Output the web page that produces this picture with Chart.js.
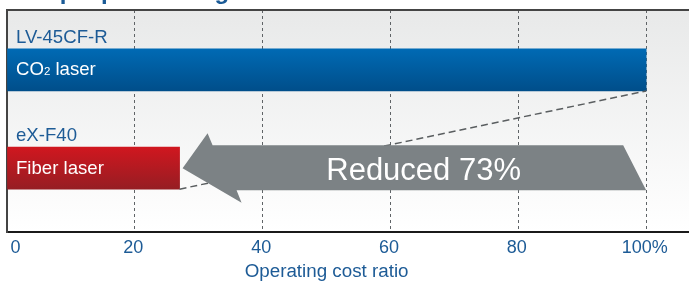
<!DOCTYPE html>
<html lang="en">
<head>
    <meta charset="UTF-8">
    <title>Operating cost ratio</title>
    <script src="https://cdn.jsdelivr.net/npm/chart.js"></script>
    <style>
        html, body { margin: 0; padding: 0; background: #fff; }
        canvas { display: block; }
    </style>
</head>
<body>
    <canvas id="grafica" width="689" height="282"></canvas>
    <script>
        // Datos
        const models = ['LV-45CF-R', 'eX-F40'];
        const laserTypes = ['CO2 laser', 'Fiber laser'];
        const costRatio = [100, 27];
        const xTickValues = [0, 20, 40, 60, 80, 100];
        const axisTitle = 'Operating cost ratio';
        const reductionText = 'Reduced 73%';
        const headerText = 'Sample processing';

        const FONT = '"Liberation Sans", Arial, Helvetica, sans-serif';
        const BLUE_TEXT = '#1d5b96';
        const barGradients = [['#006ab4', '#004e8a'], ['#d0171f', '#961d23']];

        // fondo degradado, cabecera cortada y bordes
        const decoPlugin = {
            id: 'deco',
            beforeDraw(chart) {
                const { ctx, chartArea: a } = chart;
                ctx.save();
                const g = ctx.createLinearGradient(0, a.top, 0, a.bottom);
                g.addColorStop(0, '#e8e9e9');
                g.addColorStop(1, '#ffffff');
                ctx.fillStyle = g;
                ctx.fillRect(a.left, a.top, a.right - a.left, a.bottom - a.top);

                ctx.font = 'bold 24px ' + FONT;
                ctx.fillStyle = '#1a5a96';
                ctx.textBaseline = 'alphabetic';
                ctx.fillText(headerText, a.left + 2, -1.5);
                ctx.restore();
            },
            afterDatasetsDraw(chart) {
                const { ctx, chartArea: a } = chart;
                const bars = chart.getDatasetMeta(0).data;
                const blue = bars[0], red = bars[1];
                ctx.save();

                // linea discontinua entre los extremos de las barras
                ctx.strokeStyle = '#5a5e60';
                ctx.lineWidth = 1.5;
                ctx.setLineDash([7, 4]);
                ctx.beginPath();
                ctx.moveTo(red.x, red.y + red.height / 2);
                ctx.lineTo(blue.x, blue.y + blue.height / 2);
                ctx.stroke();
                ctx.setLineDash([]);

                // flecha gris
                const tipX = red.x + 3, cy = red.y, endX = blue.x;
                ctx.fillStyle = '#7c8285';
                ctx.beginPath();
                ctx.moveTo(tipX, cy);
                ctx.lineTo(tipX + 25, cy - 35);
                ctx.lineTo(tipX + 30, cy - 23);
                ctx.lineTo(endX - 23, cy - 23);
                ctx.lineTo(endX, cy + 22);
                ctx.lineTo(tipX + 54, cy + 22);
                ctx.lineTo(tipX + 59, cy + 34.5);
                ctx.closePath();
                ctx.fill();

                ctx.font = '31px ' + FONT;
                ctx.fillStyle = '#ffffff';
                ctx.textAlign = 'center';
                ctx.textBaseline = 'alphabetic';
                ctx.fillText(reductionText, (tipX + 30 + endX - 11.5) / 2, cy + 12);

                // etiquetas de las barras
                ctx.textAlign = 'left';
                const lx = a.left + 9;
                const f = '18.6px ' + FONT;
                bars.forEach((bar, i) => {
                    const top = bar.y - bar.height / 2;
                    ctx.font = f;
                    ctx.fillStyle = BLUE_TEXT;
                    ctx.fillText(models[i], lx, Math.round(top - 6));
                    ctx.fillStyle = '#ffffff';
                    const base = Math.round(top + 26.5);
                    const name = laserTypes[i];
                    if (name.startsWith('CO2')) {
                        ctx.fillText('CO', lx, base);
                        let x = lx + ctx.measureText('CO').width;
                        ctx.font = '11.5px ' + FONT;
                        ctx.fillText('2', x, base);
                        x += ctx.measureText('2').width;
                        ctx.font = f;
                        ctx.fillText(name.slice(3), x, base);
                    } else {
                        ctx.fillText(name, lx, base);
                    }
                });

                // titulo del eje, centrado en 0-100
                const xs = chart.scales.x;
                ctx.font = '18.8px ' + FONT;
                ctx.fillStyle = BLUE_TEXT;
                ctx.textAlign = 'center';
                ctx.fillText(axisTitle, (xs.getPixelForValue(0) + xs.getPixelForValue(100)) / 2, 277);
                ctx.restore();
            },
            afterDraw(chart) {
                const { ctx, chartArea: a } = chart;
                ctx.save();
                ctx.strokeStyle = '#444';
                ctx.lineWidth = 2;
                ctx.beginPath();
                ctx.moveTo(a.left - 1, a.top);
                ctx.lineTo(a.right, a.top);
                ctx.stroke();
                ctx.restore();
            }
        };

        const ctx = document.getElementById('grafica').getContext('2d');
        new Chart(ctx, {
            type: 'bar',
            plugins: [decoPlugin],
            data: {
                datasets: [{
                    label: 'Operating cost ratio',
                    data: costRatio.map((v, i) => ({ x: v, y: i })),
                    barThickness: 42,
                    borderWidth: 0,
                    backgroundColor: (c) => {
                        const chart = c.chart;
                        if (!chart.chartArea || c.type !== 'data') return barGradients[0][0];
                        const yc = chart.scales.y.getPixelForValue(c.dataIndex);
                        const g = chart.ctx.createLinearGradient(0, yc - 21, 0, yc + 21);
                        g.addColorStop(0, barGradients[c.dataIndex][0]);
                        g.addColorStop(1, barGradients[c.dataIndex][1]);
                        return g;
                    }
                }]
            },
            options: {
                indexAxis: 'y',
                responsive: false,
                animation: false,
                layout: { padding: { top: 10, left: 7, right: 0, bottom: 0 } },
                plugins: {
                    legend: { display: false },
                    tooltip: { enabled: false }
                },
                scales: {
                    x: {
                        type: 'linear',
                        min: 0,
                        max: 106.7,
                        afterBuildTicks: (s) => { s.ticks = xTickValues.map(v => ({ value: v })); },
                        afterFit: (s) => { s.height = 50; s.paddingLeft = 0; s.paddingRight = 0; },
                        grid: {
                            drawTicks: false,
                            color: (c) => (c.tick && c.tick.value === 0) ? 'rgba(0,0,0,0)' : '#5f6366',
                            lineWidth: 1
                        },
                        border: { display: true, color: '#1a1a1a', width: 2, dash: [3, 3] },
                        ticks: {
                            padding: 5,
                            color: BLUE_TEXT,
                            font: { family: FONT, size: 18 },
                            maxRotation: 0,
                            autoSkip: false,
                            labelOffset: -1.5,
                            callback: (v) => v === 100 ? '100%' : (v === 0 ? '    0' : String(v))
                        }
                    },
                    y: {
                        type: 'linear',
                        reverse: true,
                        offset: false,
                        min: -0.61,
                        max: 1.65,
                        afterFit: (s) => { s.width = 0; },
                        grid: { display: false, drawTicks: false, offset: false },
                        border: { display: true, color: '#444', width: 2 },
                        ticks: { display: false }
                    }
                }
            }
        });
    </script>
</body>
</html>
